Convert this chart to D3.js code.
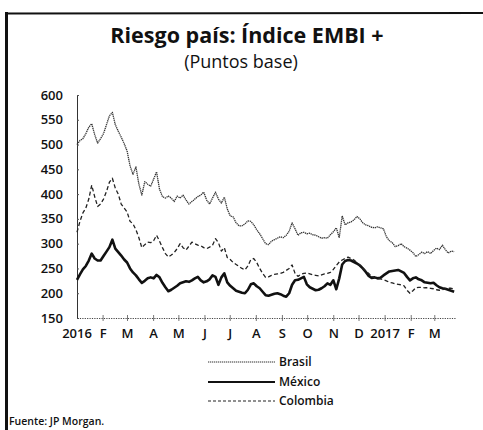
<!DOCTYPE html>
<html>
<head>
<meta charset="utf-8">
<script src="https://cdn.jsdelivr.net/npm/d3@7"></script>
<style>
  body { margin: 0; background: #fff; }
  svg { display: block; font-family: "Open Sans", sans-serif; }
</style>
</head>
<body>
<div id="chart"></div>
<script>
// half-weekly observations (every 84 hours), starting 1 Jan 2016
const startDate = new Date(2016, 0, 1);
const nObs = 129;
const dates = d3.range(nObs).map((i) => d3.timeHour.offset(startDate, 84 * i));

const brasil = [
  500, 508, 512, 522, 535, 542, 520, 503, 512, 522,
  540, 558, 565, 540, 527, 515, 502, 487, 457, 440,
  455, 420, 398, 425, 420, 416, 430, 445, 410, 395,
  392, 396, 392, 385, 396, 392, 398, 388, 380, 385,
  390, 395, 398, 404, 388, 380, 392, 404, 390, 382,
  394, 370, 356, 354, 342, 336, 336, 340, 346, 345,
  338, 328, 320, 310, 300, 298, 305, 308, 311, 314,
  312, 317, 325, 342, 330, 317, 322, 323, 320, 321,
  318, 317, 314, 311, 312, 311, 318, 324, 332, 312,
  356, 338, 342, 344, 348, 355, 350, 342, 338, 336,
  333, 332, 334, 332, 330, 314, 306, 302, 294, 296,
  300, 294, 291, 287, 282, 274, 278, 283, 280, 284,
  280, 286, 291, 288, 297, 288, 281, 285, 284
];
const mexico = [
  227, 238, 248, 255, 266, 280, 270, 266, 266, 275,
  284, 293, 308, 290, 283, 276, 268, 262, 250, 242,
  236, 228, 221, 225, 230, 232, 230, 237, 232, 221,
  212, 204, 207, 211, 215, 220, 222, 224, 223, 226,
  230, 233, 226, 222, 224, 228, 236, 233, 217, 232,
  240, 222, 215, 210, 205, 203, 201, 200, 207, 218,
  220, 214, 210, 203, 196, 195, 197, 199, 200, 198,
  195, 193, 200, 217, 226, 227, 230, 233, 218, 212,
  209, 206, 207, 210, 214, 220, 217, 226, 208, 230,
  258, 265, 267, 266, 263, 260, 256, 250, 243, 235,
  231, 232, 230, 231, 236, 240, 244, 245, 246, 247,
  244, 241, 233, 226, 230, 232, 228, 226, 222, 221,
  220, 221, 216, 212, 210, 209, 207, 205, 203
];
const colombia = [
  323, 345, 362, 372, 390, 418, 395, 375, 380, 390,
  405, 424, 432, 412, 400, 380, 372, 364, 345, 340,
  328, 312, 292, 298, 303, 302, 306, 317, 305, 292,
  280, 273, 277, 282, 290, 300, 292, 287, 295, 303,
  300, 297, 296, 292, 290, 293, 297, 310, 302, 285,
  292, 272, 268, 262, 258, 254, 250, 247, 255, 268,
  270, 262, 250, 240, 232, 233, 236, 238, 239, 240,
  242, 246, 250, 257, 240, 234, 238, 240, 241, 239,
  237, 236, 235, 237, 239, 240, 242, 248, 256, 263,
  267, 270, 273, 270, 267, 262, 257, 250, 245, 240,
  234, 231, 230, 229, 227, 225, 222, 221, 219, 218,
  217, 215, 206, 200, 205, 211, 212, 212, 211, 211,
  210, 209, 207, 206, 207, 209, 210, 210, 209
];

const yTicks = [150, 200, 250, 300, 350, 400, 450, 500, 550, 600];
const monthLetters = ["E", "F", "M", "A", "M", "J", "J", "A", "S", "O", "N", "D"];
const seriesNames = ["Brasil", "México", "Colombia"];

const width = 483;
const height = 430;

const svg = d3
  .select("#chart")
  .append("svg")
  .attr("width", width)
  .attr("height", height);

// frame
svg.append("line").attr("x1", 5).attr("x2", 483).attr("y1", 13.5).attr("y2", 13)
  .attr("stroke", "#111").attr("stroke-width", 2);
svg.append("line").attr("x1", 6.5).attr("x2", 6.5).attr("y1", 12).attr("y2", 430)
  .attr("stroke", "#111").attr("stroke-width", 3);

// titles
svg.append("text").attr("x", 247).attr("y", 43).attr("text-anchor", "middle")
  .attr("font-size", 21.5).attr("font-weight", 700).attr("fill", "#111")
  .text("Riesgo país: Índice EMBI +");
svg.append("text").attr("x", 241).attr("y", 68).attr("text-anchor", "middle")
  .attr("font-size", 18).attr("fill", "#111")
  .text("(Puntos base)");

// scales
const x = d3.scaleTime()
  .domain([startDate, new Date(2017, 2, 25)])
  .range([77, 455]);
const y = d3.scaleLinear().domain([150, 600]).range([318, 95]);

// y axis
const yAxis = svg.append("g").attr("transform", "translate(77,0)")
  .call(d3.axisRight(y).tickValues(yTicks).tickSize(2).tickFormat(""));
yAxis.select(".domain").attr("stroke", "#333").attr("stroke-width", 1);
yAxis.selectAll(".tick line").attr("stroke", "#555");

svg.append("g").selectAll("text")
  .data(yTicks)
  .enter()
  .append("text")
  .attr("x", 63)
  .attr("y", (d) => y(d))
  .attr("dy", "0.35em")
  .attr("text-anchor", "end")
  .attr("font-size", 13)
  .attr("font-weight", 600)
  .attr("fill", "#111")
  .text((d) => d);

// x axis, dotted
const months = d3.timeMonth.range(startDate, new Date(2017, 2, 2));
const xAxis = svg.append("g").attr("transform", "translate(0,318)")
  .call(d3.axisBottom(x).tickValues(months).tickSize(0).tickFormat(""));
xAxis.select(".domain").attr("stroke", "#444").attr("stroke-dasharray", "1.2,1.2");

svg.append("g").selectAll("line")
  .data(months.slice(1))
  .enter()
  .append("line")
  .attr("x1", (d) => x(d))
  .attr("x2", (d) => x(d))
  .attr("y1", 315)
  .attr("y2", 321)
  .attr("stroke", "#555")
  .attr("stroke-width", 0.8);

svg.append("g").selectAll("text")
  .data(months)
  .enter()
  .append("text")
  .attr("x", (d) => x(d))
  .attr("y", 338)
  .attr("text-anchor", "middle")
  .attr("font-size", 13)
  .attr("font-weight", 600)
  .attr("fill", "#111")
  .text((d) => (d.getMonth() === 0 ? d.getFullYear() : monthLetters[d.getMonth()]));

// lines
const line = d3.line()
  .x((d, i) => x(dates[i]))
  .y((d) => y(d));

const styles = {
  "Brasil": { stroke: "#333", width: 1.3, dash: "1.3,0.7" },
  "México": { stroke: "#111", width: 2.6, dash: null },
  "Colombia": { stroke: "#222", width: 1.3, dash: "4,2.5" },
};
const seriesData = [brasil, mexico, colombia];

seriesData.forEach((values, k) => {
  const st = styles[seriesNames[k]];
  svg.append("path")
    .datum(values)
    .attr("d", line)
    .attr("fill", "none")
    .attr("stroke", st.stroke)
    .attr("stroke-width", st.width)
    .attr("stroke-dasharray", st.dash)
    .attr("stroke-linejoin", "round");
});

// legend
const legendY = [362, 382, 401];
const legend = svg.append("g")
  .selectAll("g")
  .data(seriesNames)
  .enter()
  .append("g")
  .attr("transform", (d, i) => "translate(0," + legendY[i] + ")");

legend.append("line")
  .attr("x1", 208)
  .attr("x2", 275)
  .attr("stroke", (d) => styles[d].stroke)
  .attr("stroke-width", (d) => (d === "México" ? 1.8 : 1.2))
  .attr("stroke-dasharray", (d) => (d === "Colombia" ? "3,2" : styles[d].dash));

legend.append("text")
  .attr("x", 279)
  .attr("dy", "0.35em")
  .attr("font-size", 12)
  .attr("font-weight", 600)
  .attr("fill", "#111")
  .text((d) => d);

svg.append("text").attr("x", 9).attr("y", 425)
  .attr("font-size", 10.5).attr("font-weight", 600).attr("fill", "#111")
  .text("Fuente: JP Morgan.");
</script>
</body>
</html>
